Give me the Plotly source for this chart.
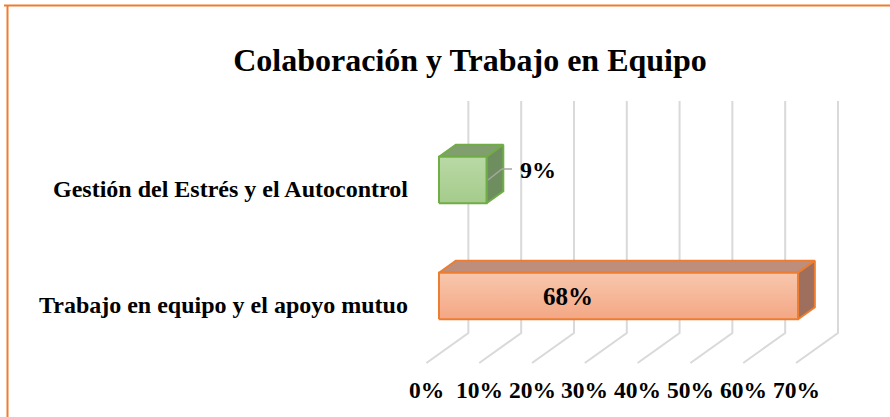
import plotly.graph_objects as go

# Data
categories = ["Trabajo en equipo y el apoyo mutuo", "Gestión del Estrés y el Autocontrol"]
values = [68, 9]
value_labels = ["68%", "9%"]
tick_values = [0, 10, 20, 30, 40, 50, 60, 70]
tick_labels = ["0%", "10%", "20%", "30%", "40%", "50%", "60%", "70%"]
title_text = "Colaboración y Trabajo en Equipo"

# Styling
front_colors = [("#F8C7AD", "#F4A784"), ("#B9D9A5", "#A5CB8C")]
top_colors = ["#BC8E7B", "#809E6E"]
side_colors = ["#9D6F5C", "#6F8E5F"]
edge_colors = ["#ED7D31", "#70AD47"]
grid_color = "#D9D9D9"
serif = "Liberation Serif, Times New Roman, serif"

# Oblique projection: full floor depth expressed in axis units
DX, DY = 7.95, 0.2586
FRONT = 0.3          # depth of the bar front faces
BAR_DEPTH = 0.4      # depth of each bar
HALF = 0.2           # half bar height (category units)

fig = go.Figure()

# Back wall and floor grid lines
for t in tick_values:
    bx, by = t + (1 - FRONT) * DX, (1 - FRONT) * DY
    fx, fy = t - FRONT * DX, -FRONT * DY
    fig.add_trace(go.Scatter(
        x=[bx, bx, fx], y=[1.5 + by, -0.5 + by, -0.5 + fy],
        mode="lines", line=dict(color=grid_color, width=2),
        hoverinfo="skip", showlegend=False))

# 3D bars
bdx, bdy = BAR_DEPTH * DX, BAR_DEPTH * DY
for i, (cat, v) in enumerate(zip(categories, values)):
    c = i
    top, bot = c + HALF, c - HALF
    edge = dict(color=edge_colors[i], width=2)
    # top face
    fig.add_trace(go.Scatter(
        x=[0, v, v + bdx, bdx, 0], y=[top, top, top + bdy, top + bdy, top],
        mode="lines", fill="toself", fillcolor=top_colors[i], line=edge,
        hoverinfo="skip", showlegend=False))
    # side face
    fig.add_trace(go.Scatter(
        x=[v, v + bdx, v + bdx, v, v], y=[bot, bot + bdy, top + bdy, top, bot],
        mode="lines", fill="toself", fillcolor=side_colors[i], line=edge,
        hoverinfo="skip", showlegend=False))
    # front face with vertical gradient
    fig.add_trace(go.Scatter(
        x=[0, v, v, 0, 0], y=[bot, bot, top, top, bot],
        mode="lines", fill="toself", line=edge,
        fillgradient=dict(type="vertical", start=top, stop=bot,
                          colorscale=[[0, front_colors[i][0]], [1, front_colors[i][1]]]),
        hoverinfo="skip", showlegend=False))

    # category label
    fig.add_annotation(x=-5.5, y=c - FRONT * DY, xref="x", yref="y",
                       text=f"<b>{cat}</b>", showarrow=False, xanchor="right",
                       font=dict(family=serif, size=24, color="black"))

# Data labels
fig.add_annotation(x=values[0] * 0.36, y=0, xref="x", yref="y",
                   text=f"<b>{value_labels[0]}</b>", showarrow=False,
                   font=dict(family=serif, size=25, color="black"))
v1 = values[1]
fig.add_trace(go.Scatter(
    x=[v1 + 0.28, v1 + 2.93, v1 + 4.83], y=[1.0, 1.095, 1.095],
    mode="lines", line=dict(color="#A6A6A6", width=1.5),
    hoverinfo="skip", showlegend=False))
fig.add_annotation(x=v1 + 6.0, y=1.09, xref="x", yref="y",
                   text=f"<b>{value_labels[1]}</b>", showarrow=False, xanchor="left",
                   font=dict(family=serif, size=24, color="black"))

# Value axis labels along the floor front edge
for t, lab in zip(tick_values, tick_labels):
    fig.add_annotation(x=t - FRONT * DX, y=-0.5 - FRONT * DY - 0.235, xref="x", yref="y",
                       text=f"<b>{lab}</b>", showarrow=False,
                       font=dict(family=serif, size=23.5, color="black"))

# Chart border (top and left edges)
fig.add_shape(type="line", xref="paper", yref="paper", x0=4 / 890, x1=1, y0=1 - 5.5 / 417,
              y1=1 - 5.5 / 417, line=dict(color="#ED7D31", width=2))
fig.add_shape(type="line", xref="paper", yref="paper", x0=7.5 / 890, x1=7.5 / 890, y0=0,
              y1=1 - 5.5 / 417, line=dict(color="#ED7D31", width=2))

fig.update_layout(
    width=890, height=417,
    margin=dict(l=0, r=0, t=0, b=0),
    paper_bgcolor="white", plot_bgcolor="white",
    title=dict(text=f"<b>{title_text}</b>", x=470 / 890, xanchor="center",
               y=1 - 60 / 417, yanchor="middle",
               font=dict(family=serif, size=32, color="black")),
    xaxis=dict(range=[-439 / 5.28, (890 - 439) / 5.28], visible=False, fixedrange=True),
    yaxis=dict(range=[(296 - 417) / 116, 296 / 116], visible=False, fixedrange=True),
    showlegend=False,
)

fig.write_html("out.html")
